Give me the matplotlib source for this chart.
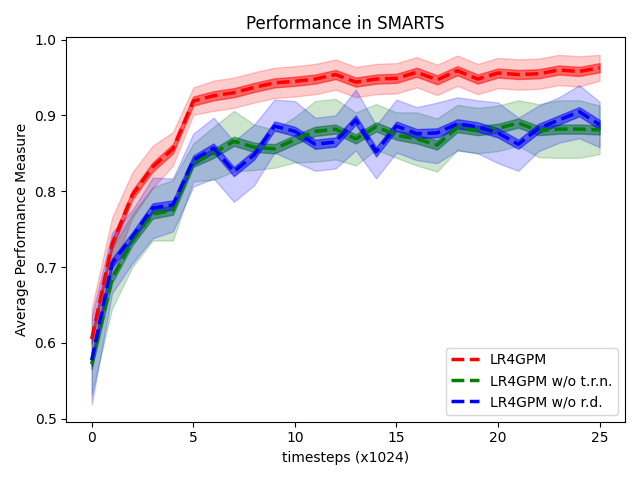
import matplotlib
matplotlib.use("Agg")
import matplotlib.pyplot as plt
import numpy as np

steps = list(range(26))

# mean curves
lr4gpm = [0.605, 0.73, 0.795, 0.832, 0.856, 0.919, 0.926, 0.930, 0.937, 0.943,
          0.945, 0.948, 0.954, 0.944, 0.948, 0.949, 0.957, 0.947, 0.959, 0.948,
          0.956, 0.954, 0.955, 0.960, 0.958, 0.963]
no_trn = [0.572, 0.685, 0.735, 0.770, 0.775, 0.838, 0.850, 0.866, 0.858, 0.856,
          0.868, 0.879, 0.882, 0.869, 0.885, 0.874, 0.869, 0.861, 0.884, 0.880,
          0.883, 0.890, 0.880, 0.882, 0.882, 0.881]
no_rd = [0.577, 0.705, 0.740, 0.778, 0.782, 0.841, 0.857, 0.826, 0.848, 0.886,
         0.879, 0.862, 0.865, 0.894, 0.852, 0.886, 0.876, 0.877, 0.889, 0.885,
         0.877, 0.862, 0.883, 0.894, 0.905, 0.888]

# half widths of the wide (outer) shaded bands
lr4gpm_out = [0.04, 0.035, 0.03, 0.028, 0.022, 0.018, 0.02, 0.02, 0.02, 0.02,
              0.02, 0.02, 0.02, 0.02, 0.02, 0.02, 0.02, 0.02, 0.02, 0.02,
              0.02, 0.02, 0.02, 0.02, 0.02, 0.017]
no_trn_out = [0.04, 0.04, 0.035, 0.035, 0.04, 0.025, 0.035, 0.04, 0.03, 0.025,
              0.03, 0.04, 0.04, 0.035, 0.03, 0.03, 0.035, 0.035, 0.03, 0.03,
              0.03, 0.03, 0.035, 0.038, 0.038, 0.032]
no_rd_out = [0.058, 0.04, 0.035, 0.04, 0.035, 0.035, 0.04, 0.04, 0.04, 0.035,
             0.04, 0.035, 0.035, 0.04, 0.035, 0.035, 0.035, 0.04, 0.035, 0.035,
             0.04, 0.035, 0.03, 0.03, 0.035, 0.03]
inner = 0.006

series = [
    ("LR4GPM", lr4gpm, lr4gpm_out, "red"),
    ("LR4GPM w/o t.r.n.", no_trn, no_trn_out, "green"),
    ("LR4GPM w/o r.d.", no_rd, no_rd_out, "blue"),
]

fig, ax = plt.subplots(figsize=(6.4, 4.8), dpi=100)
for name, m, w, c in series:
    m = np.array(m)
    w = np.array(w)
    ax.fill_between(steps, m - w, m + w, color=c, alpha=0.2)
    ax.fill_between(steps, m - inner, m + inner, color=c, alpha=0.5)
    ax.plot(steps, m, "--", color=c, lw=2.5, label=name)

ax.set_title("Performance in SMARTS")
ax.set_xlabel("timesteps (x1024)")
ax.set_ylabel("Average Performance Measure")
ax.set_yticks([0.5, 0.6, 0.7, 0.8, 0.9, 1.0])
ax.legend(loc="lower right")
plt.tight_layout()
plt.savefig("out.png")
